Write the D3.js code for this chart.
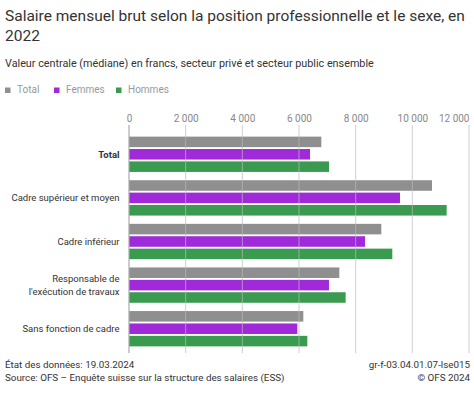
<!DOCTYPE html>
<html>
<head>
<meta charset="utf-8">
<script src="https://cdn.jsdelivr.net/npm/d3@7"></script>
<style>
  body { margin: 0; background: #fff; }
  text { font-family: Roboto, "Noto Sans", sans-serif; }
</style>
</head>
<body>
<div id="chart"></div>
<script>
var width = 474,
	height = 396;

// categories and series
var categories = ["Total", "Cadre supérieur et moyen", "Cadre inférieur", "Responsable de\nl'exécution de travaux", "Sans fonction de cadre"];
var series = ["Total", "Femmes", "Hommes"];
var colors = ["#8f8f8f", "#a02ad9", "#3a9a50"];

// values in francs
var totalValues = [6788, 10694, 8905, 7423, 6152];
var femmesValues = [6388, 9564, 8329, 7058, 5941];
var hommesValues = [7058, 11211, 9293, 7646, 6294];

var ticks = [0, 2000, 4000, 6000, 8000, 10000, 12000];

var data = categories.map(function(c, i) {
	return { cat: c, vals: [totalValues[i], femmesValues[i], hommesValues[i]] };
});

var margin = { left: 129, right: 5 };

var svg = d3.select("#chart").append("svg")
	.attr("width", width)
	.attr("height", height);

// title
var title = svg.append("text")
	.attr("x", 5)
	.attr("y", 21)
	.attr("font-size", "15.5px")
	.attr("fill", "#333");
title.append("tspan").attr("x", 5).text("Salaire mensuel brut selon la position professionnelle et le sexe, en");
title.append("tspan").attr("x", 5).attr("dy", 20).text("2022");

svg.append("text")
	.attr("x", 5)
	.attr("y", 67)
	.attr("font-size", "10.8px")
	.attr("fill", "#333")
	.text("Valeur centrale (médiane) en francs, secteur privé et secteur public ensemble");

// legend
var legend = svg.append("g").attr("transform", "translate(5,85)");
var lx = [0, 49, 111];
legend.selectAll("rect")
	.data(series)
	.enter()
	.append("rect")
	.attr("x", function(d, i) { return lx[i]; })
	.attr("y", 2.5)
	.attr("width", 5.5)
	.attr("height", 5.5)
	.attr("fill", function(d, i) { return colors[i]; });
legend.selectAll("text")
	.data(series)
	.enter()
	.append("text")
	.attr("x", function(d, i) { return lx[i] + 12; })
	.attr("y", 8)
	.attr("font-size", "10px")
	.attr("fill", "#999")
	.text(function(d) { return d; });

// scales
var x = d3.scaleLinear()
	.domain([0, 12000])
	.range([margin.left, width - margin.right]);

var y0 = d3.scaleBand()
	.domain(categories)
	.range([134, 349])
	.paddingInner(0.19)
	.paddingOuter(0.06);

var y1 = d3.scaleBand()
	.domain(d3.range(series.length))
	.range([0, y0.bandwidth()])
	.paddingInner(0.15);

// bars
var groups = svg.append("g").selectAll("g")
	.data(data)
	.enter()
	.append("g")
	.attr("transform", function(d) { return "translate(0," + y0(d.cat) + ")"; });

groups.selectAll("rect")
	.data(function(d) { return d.vals; })
	.enter()
	.append("rect")
	.attr("x", x(0))
	.attr("y", function(d, i) { return y1(i); })
	.attr("width", function(d) { return x(d) - x(0); })
	.attr("height", y1.bandwidth())
	.attr("fill", function(d, i) { return colors[i]; });

// grid + axes on top
var grid = svg.append("g");
grid.selectAll("line")
	.data(ticks.slice(1))
	.enter()
	.append("line")
	.attr("x1", function(d) { return x(d); })
	.attr("x2", function(d) { return x(d); })
	.attr("y1", 125)
	.attr("y2", 353)
	.attr("stroke", "#bbb")
	.attr("stroke-opacity", 0.7)
	.attr("stroke-width", 1);

svg.append("line")
	.attr("x1", x(0)).attr("x2", x(0))
	.attr("y1", 125).attr("y2", 353)
	.attr("stroke", "#aaa")
	.attr("stroke-width", 1.2);

var fmt = function(d) { return d3.format(",")(d).replace(/,/g, " "); };

var xAxis = svg.append("g")
	.attr("transform", "translate(0,131)")
	.call(d3.axisTop(x).tickValues(ticks).tickFormat(fmt).tickSize(0).tickPadding(9));
xAxis.select(".domain").remove();
xAxis.selectAll("text")
	.attr("font-size", "10px")
	.attr("font-family", "Roboto, sans-serif")
	.attr("fill", "#888");
xAxis.selectAll(".tick:last-of-type text").attr("text-anchor", "end").attr("dx", 0);

// category labels
var labels = svg.append("g").selectAll("text")
	.data(data)
	.enter()
	.append("text")
	.attr("text-anchor", "end")
	.attr("font-size", "9.5px")
	.attr("fill", "#333")
	.attr("font-weight", function(d, i) { return i === 0 ? "bold" : "normal"; })
	.attr("transform", function(d) {
		var lines = d.cat.split("\n").length;
		var cy = y0(d.cat) + y0.bandwidth() / 2 + 3.5 - (lines - 1) * 6.5;
		return "translate(119.5," + cy + ")";
	});
labels.each(function(d) {
	var t = d3.select(this);
	d.cat.split("\n").forEach(function(line, k) {
		t.append("tspan").attr("x", 0).attr("dy", k === 0 ? 0 : 13).text(line);
	});
});

// footer
var foot = svg.append("g").attr("font-size", "9.8px").attr("fill", "#333");
foot.append("text").attr("x", 5).attr("y", 367.5).text("État des données: 19.03.2024");
foot.append("text").attr("x", 5).attr("y", 381).text("Source: OFS – Enquête suisse sur la structure des salaires (ESS)");
foot.append("text").attr("x", 470).attr("y", 367.5).attr("text-anchor", "end").text("gr-f-03.04.01.07-lse015");
foot.append("text").attr("x", 470).attr("y", 381).attr("text-anchor", "end").text("© OFS 2024");
</script>
</body>
</html>
